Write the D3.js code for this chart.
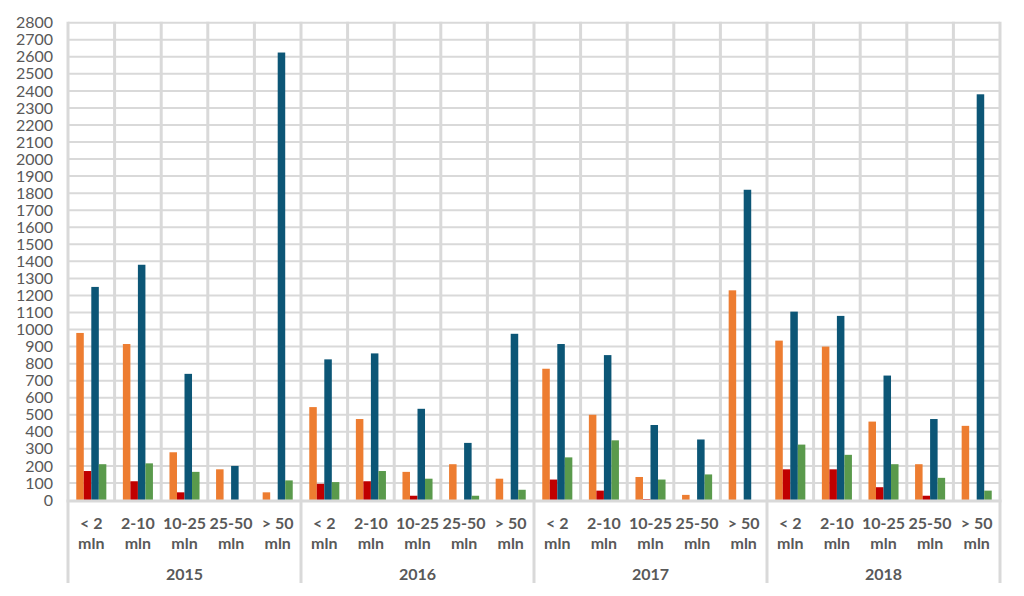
<!DOCTYPE html>
<html>
<head>
<meta charset="utf-8">
<script src="https://cdn.jsdelivr.net/npm/d3@7"></script>
<style>
  html, body { margin: 0; padding: 0; background: #fff; }
  svg { display: block; }
  text { font-family: Lato, "Open Sans", sans-serif; fill: #595959; }
</style>
</head>
<body>
<svg id="chart" width="1024" height="596"></svg>
<script>
const years = ["2015", "2016", "2017", "2018"];
const sizes = ["< 2|mln", "2-10|mln", "10-25|mln", "25-50|mln", "> 50|mln"];
const seriesNames = ["s1", "s2", "s3", "s4"];
const seriesColors = ["#ED7D31", "#C00000", "#0C5676", "#5A9A4C"];
const yTicks = d3.range(0, 2801, 100);

// values per year, per size class: [orange, red, blue, green]
const values2015 = [[980, 170, 1250, 210], [915, 110, 1380, 215], [280, 45, 740, 165], [180, 0, 200, 0], [45, 0, 2625, 115]];
const values2016 = [[545, 95, 825, 105], [475, 110, 860, 170], [165, 25, 535, 125], [210, 0, 335, 25], [125, 0, 975, 60]];
const values2017 = [[770, 120, 915, 250], [500, 55, 850, 350], [135, 5, 440, 120], [30, 0, 355, 150], [1230, 0, 1820, 0]];
const values2018 = [[935, 180, 1105, 325], [900, 180, 1080, 265], [460, 75, 730, 210], [210, 25, 475, 130], [435, 0, 2380, 55]];
const allValues = [values2015, values2016, values2017, values2018];

const rows = [];
years.forEach((yr, yi) => sizes.forEach((s, si) => {
  rows.push({ key: yr + "_" + si, year: yr, size: s, vals: allValues[yi][si] });
}));

const svg = d3.select("#chart");
const pLeft = 68, pRight = 1000, pTop = 22.7, pBottom = 500, axisBottom = 583;

const x0 = d3.scaleBand().domain(rows.map(r => r.key)).range([pLeft, pRight]).padding(0);
const x1 = d3.scaleBand().domain(seriesNames).range([0, x0.bandwidth()]).paddingInner(0).paddingOuter(1.1);
const y = d3.scaleLinear().domain([0, 2800]).range([pBottom, pTop]);

const grid = "#D9D9D9";
// horizontal gridlines
svg.append("g").selectAll("line").data(yTicks.filter(t => t > 0)).join("line")
  .attr("x1", pLeft).attr("x2", pRight)
  .attr("y1", d => y(d)).attr("y2", d => y(d))
  .attr("stroke", grid).attr("stroke-width", 2);

// vertical category gridlines
const bounds = rows.map(r => x0(r.key)).concat([pRight]);
svg.append("g").selectAll("line").data(bounds).join("line")
  .attr("x1", d => d).attr("x2", d => d)
  .attr("y1", pTop - 1)
  .attr("y2", (d, i) => (i % 5 === 0) ? axisBottom : pBottom)
  .attr("stroke", grid).attr("stroke-width", 3);

// bars
const g = svg.append("g").selectAll("g").data(rows).join("g")
  .attr("transform", d => `translate(${x0(d.key)},0)`);
g.selectAll("rect").data(d => d.vals.map((v, i) => ({ v, i }))).join("rect")
  .attr("x", d => x1(seriesNames[d.i]))
  .attr("width", x1.bandwidth())
  .attr("y", d => y(d.v))
  .attr("height", d => pBottom - y(d.v))
  .attr("fill", d => seriesColors[d.i]);

// x axis line
svg.append("line").attr("x1", pLeft - 1.5).attr("x2", pRight + 1.5)
  .attr("y1", pBottom + 1).attr("y2", pBottom + 1)
  .attr("stroke", grid).attr("stroke-width", 3);

// y axis labels
const yAxis = d3.axisLeft(y).tickValues(yTicks).tickFormat(d3.format("d")).tickSize(0).tickPadding(0);
const ya = svg.append("g").attr("transform", "translate(53,0)").call(yAxis);
ya.select(".domain").remove();
ya.selectAll("text").style("font-family", "Lato, sans-serif").style("font-size", "16px").attr("fill", "#595959");

// category labels
const lab = svg.append("g").selectAll("text").data(rows).join("text")
  .attr("text-anchor", "middle")
  .attr("x", d => x0(d.key) + x0.bandwidth() / 2)
  .style("font-size", "16px").style("font-weight", "700");
lab.append("tspan").attr("x", d => x0(d.key) + x0.bandwidth() / 2).attr("y", 529).text(d => d.size.split("|")[0]);
lab.append("tspan").attr("x", d => x0(d.key) + x0.bandwidth() / 2).attr("y", 549).text(d => d.size.split("|")[1]);

// year labels
svg.append("g").selectAll("text").data(years).join("text")
  .attr("text-anchor", "middle")
  .attr("x", yr => (x0(yr + "_0") + x0(yr + "_4") + x0.bandwidth()) / 2)
  .attr("y", 580)
  .style("font-size", "16px").style("font-weight", "700")
  .text(d => d);
</script>
</body>
</html>
